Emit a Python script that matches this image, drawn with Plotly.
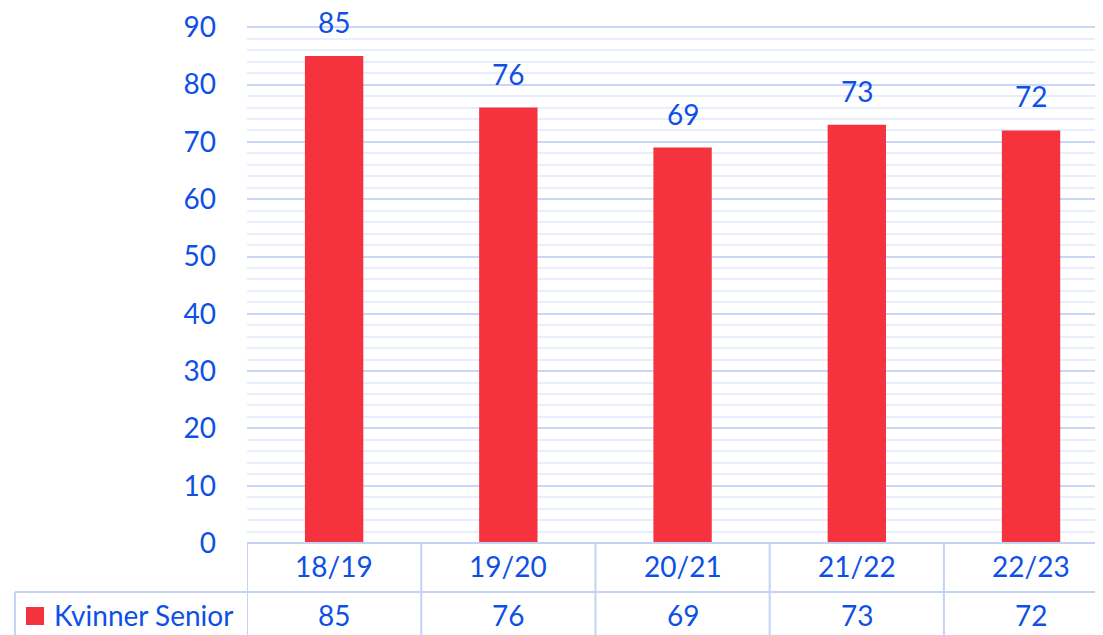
import plotly.graph_objects as go

seasons = ["18/19", "19/20", "20/21", "21/22", "22/23"]
kvinner_senior = [85, 76, 69, 73, 72]
series_name = "Kvinner Senior"

blue = "#0e50e6"
red = "#f5333f"
line_col = "#c3d3f6"
font_family = "Lato, 'Open Sans', sans-serif"

fig = go.Figure()
fig.add_trace(go.Bar(
    x=list(range(len(seasons))),
    y=kvinner_senior,
    name=series_name,
    marker=dict(color=red, line=dict(width=0)),
    width=0.335,
    showlegend=False,
))

annotations = []
for i, (s, v) in enumerate(zip(seasons, kvinner_senior)):
    # value above bar
    annotations.append(dict(x=i, y=v, xref="x", yref="y", text=str(v), showarrow=False,
                            yanchor="bottom", yshift=15, font=dict(size=28, color=blue)))
    # table row 1: category
    annotations.append(dict(x=i, y=0, xref="x", yref="paper", text=s, showarrow=False,
                            yanchor="middle", yshift=-23, font=dict(size=28, color=blue)))
    # table row 2: value
    annotations.append(dict(x=i, y=0, xref="x", yref="paper", text=str(v), showarrow=False,
                            yanchor="middle", yshift=-72, font=dict(size=28, color=blue)))

# legend key in the table
annotations.append(dict(x=-0.2278, y=0, xref="paper", yref="paper", xanchor="left", text=series_name,
                        showarrow=False, yanchor="middle", yshift=-72, font=dict(size=28, color=blue)))

shapes = []
# horizontal table lines
shapes.append(dict(type="line", xref="paper", yref="paper", x0=0, x1=1, y0=0, y1=0,
                   line=dict(color=line_col, width=2)))
shapes.append(dict(type="line", xref="paper", yref="paper", x0=-0.271, x1=1, y0=-0.0946, y1=-0.0946,
                   line=dict(color=line_col, width=2)))
# vertical table lines
for i in range(len(seasons)):
    shapes.append(dict(type="line", xref="x", yref="paper", x0=i - 0.5, x1=i - 0.5, y0=0, y1=-0.2,
                       line=dict(color=line_col, width=2)))
shapes.append(dict(type="line", xref="paper", yref="paper", x0=-0.271, x1=-0.271, y0=-0.0946, y1=-0.2,
                   line=dict(color=line_col, width=2)))
# legend marker
shapes.append(dict(type="rect", xref="paper", yref="paper", x0=-0.2582, x1=-0.2371, y0=-0.1236, y1=-0.1583,
                   fillcolor=red, line=dict(width=0)))

fig.update_layout(
    width=1095,
    height=627,
    margin=dict(l=239, r=0, t=17, b=92),
    paper_bgcolor="white",
    plot_bgcolor="white",
    font=dict(family=font_family, color=blue, size=28),
    annotations=annotations,
    shapes=shapes,
    xaxis=dict(range=[-0.5, 4.413], showticklabels=False, showgrid=False, zeroline=False,
               fixedrange=True),
    yaxis=dict(range=[0, 90.4], tickvals=list(range(0, 91, 10)), gridcolor="#c9d7f7", gridwidth=1.5,
               zeroline=False, tickfont=dict(size=28, color=blue), ticks="", ticklabelstandoff=30,
               minor=dict(dtick=2, showgrid=True, gridcolor="#e8eefc", gridwidth=1.5)),
)

fig.write_html("out.html")
